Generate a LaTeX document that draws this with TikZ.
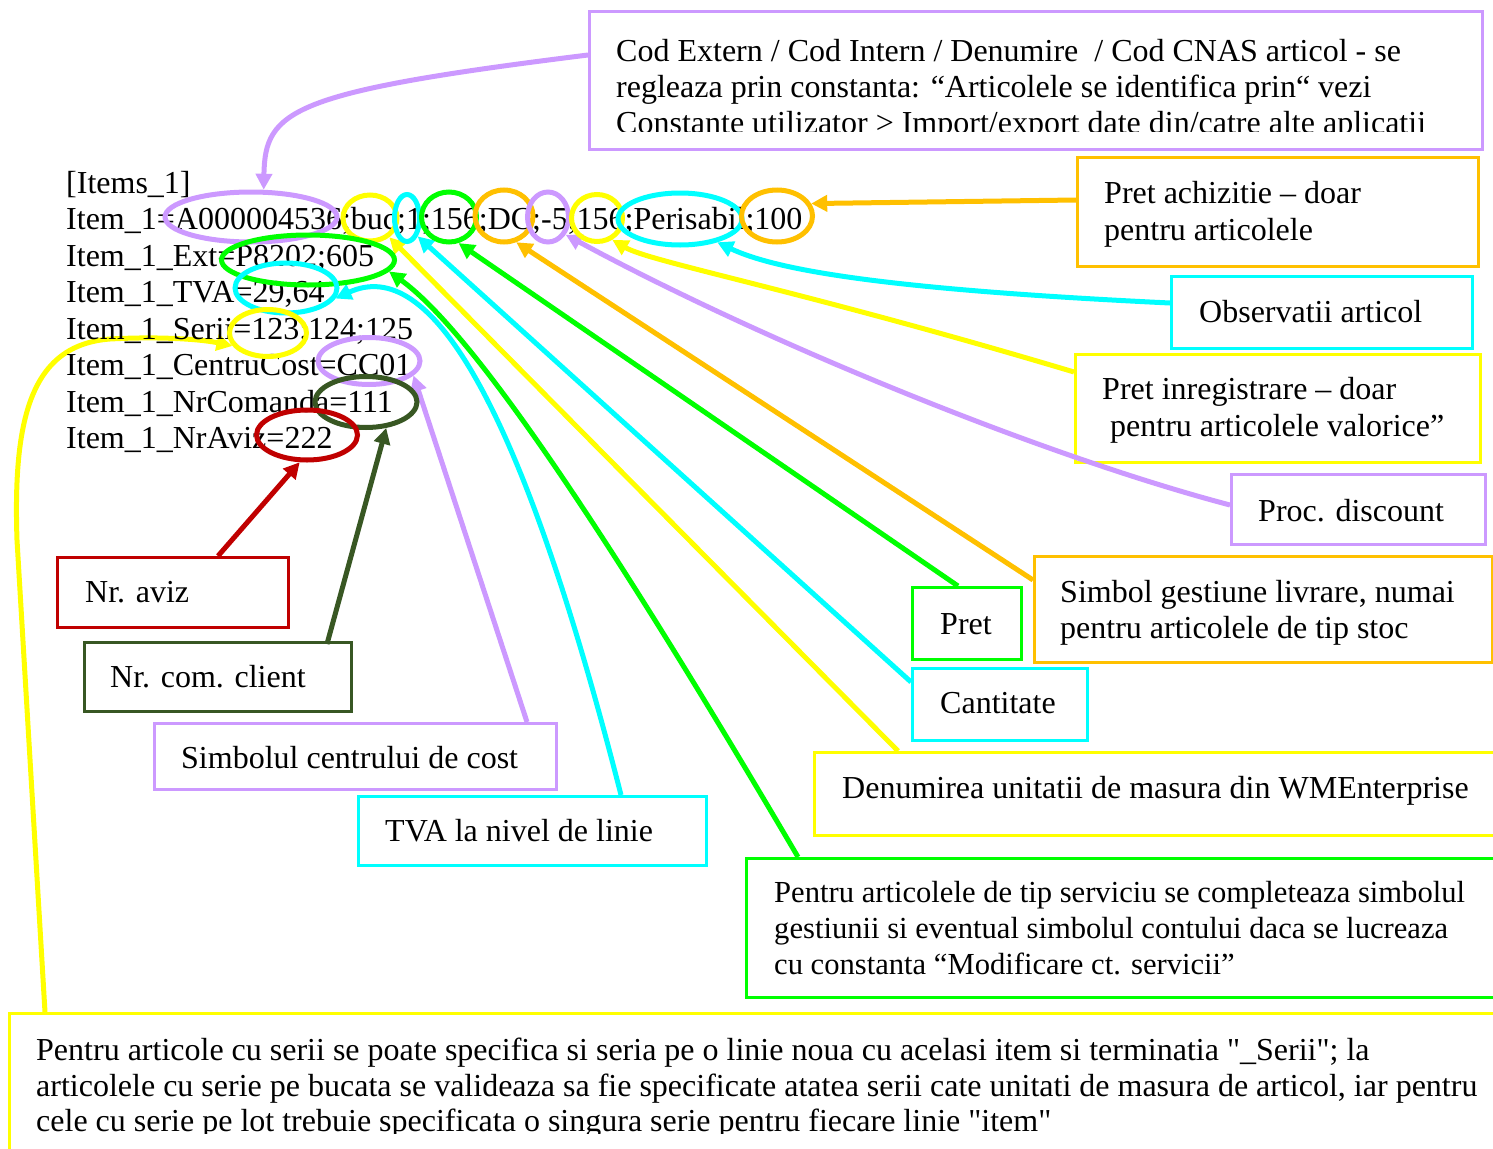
\documentclass[tikz,border=0pt]{standalone}
\usepackage{fontspec}
\newfontfamily\lib{Liberation Serif}
\usetikzlibrary{arrows.meta,shapes.geometric,calc}
\definecolor{cpur}{HTML}{CC99FF}
\definecolor{cyel}{HTML}{FFFF00}
\definecolor{ccya}{HTML}{00FFFF}
\definecolor{cgre}{HTML}{00FF00}
\definecolor{cora}{HTML}{FFC000}
\definecolor{cdgr}{HTML}{385723}
\definecolor{cred}{HTML}{C00000}
\pgfdeclarelayer{fg}
\pgfsetlayers{main,fg}
\begin{document}
\begin{tikzpicture}[x=1pt,y=-1pt,
  txt/.style={anchor=base west,inner sep=0pt,font=\lib\fontsize{32}{36}\selectfont},
  txtj/.style={txt,font=\lib\fontsize{30.6}{36}\selectfont},
  box/.style={draw=#1,line width=3pt,fill=white,anchor=north west,inner sep=0pt,rectangle},
  ell/.style={draw=#1,line width=5pt,ellipse,inner sep=0pt},
  conn/.style={draw=#1,line width=5pt,-{Triangle[length=16pt,width=16pt]}},
]
\useasboundingbox (0,0) rectangle (1493,1148);
\clip (0,0) rectangle (1493,1148);

% ellipses on the top layer
\begin{pgfonlayer}{fg}
\node[ell=cpur,minimum width=172pt,minimum height=50pt] (e1) at (251,217) {};
\node[ell=cyel,minimum width=54pt,minimum height=46pt] (e2) at (370,218) {};
\node[ell=ccya,minimum width=25pt,minimum height=47pt] (e3) at (407,218) {};
\node[ell=cgre,minimum width=55pt,minimum height=50pt] (e4) at (449,217) {};
\node[ell=cora,minimum width=58pt,minimum height=52pt] (e5) at (504,216) {};
\node[ell=cpur,minimum width=41pt,minimum height=50pt] (e6) at (548,217) {};
\node[ell=cyel,minimum width=51pt,minimum height=47pt] (e7) at (597,218) {};
\node[ell=ccya,minimum width=124pt,minimum height=52pt] (e8) at (680,219) {};
\node[ell=cora,minimum width=71pt,minimum height=52pt] (e9) at (777,216) {};
\node[ell=cgre,minimum width=173pt,minimum height=50pt] (e10) at (308,260) {};
\node[ell=ccya,minimum width=102pt,minimum height=50pt] (e11) at (286,288) {};
\node[ell=cyel,minimum width=77pt,minimum height=47pt] (e12) at (268,333) {};
\node[ell=cpur,minimum width=102pt,minimum height=47pt] (e13) at (369,361) {};
\node[ell=cdgr,minimum width=102pt,minimum height=51pt] (e14) at (366,402) {};
\node[ell=cred,minimum width=101pt,minimum height=50pt] (e15) at (307,435) {};
\end{pgfonlayer}

% boxes
\node[box=cpur,minimum width=893pt,minimum height=138pt] (A) at (588,10) {};
\node[box=cora,minimum width=401pt,minimum height=109pt] (B) at (1076,156) {};
\node[box=ccya,minimum width=301pt,minimum height=72pt] (C) at (1170,275) {};
\node[box=cyel,minimum width=405pt,minimum height=108pt] (D) at (1074,353) {};
\node[box=cpur,minimum width=254pt,minimum height=70pt] (E) at (1230,473) {};
\node[box=cora,minimum width=458pt,minimum height=106pt] (F) at (1033,555) {};
\node[box=cgre,minimum width=109pt,minimum height=72pt] (G) at (911,586) {};
\node[box=ccya,minimum width=175pt,minimum height=72pt] (H) at (911,667) {};
\node[box=cyel,minimum width=720pt,minimum height=83pt] (I) at (813,751) {};
\node[box=cgre,minimum width=790pt,minimum height=139pt] (J) at (745,857) {};
\node[box=cyel,minimum width=1530pt,minimum height=200pt] (K) at (8,1012) {};
\node[box=cred,minimum width=231pt,minimum height=70pt] (L) at (56,556) {};
\node[box=cdgr,minimum width=267pt,minimum height=69pt] (M) at (83,641) {};
\node[box=cpur,minimum width=402pt,minimum height=66pt] (N) at (153,722) {};
\node[box=ccya,minimum width=348pt,minimum height=69pt] (O) at (357,795) {};

% connectors
\draw[conn=cpur] ($(A.north west)+(0,45)$) .. controls (290,92) and (265,110) .. (e1.65);
\draw[conn=cora] ($(B.north west)+(0,44)$) -- (e9.20);
\draw[conn=ccya] ($(C.north west)+(0,28)$) .. controls (900,290) and (780,272) .. (e8.-32);
\draw[conn=cyel] ($(D.north west)+(0,19)$) .. controls (800,290) and (650,262) .. (e7.-55);
\draw[conn=cpur] ($(E.north west)+(0,32)$) .. controls (1040,455) and (760,340) .. (e6.-45);
\draw[conn=cora] ($(F.north west)+(0,25)$) -- (e5.-65);
\draw[conn=cgre] ($(G.north west)+(47,0)$) -- (e4.-70);
\draw[conn=ccya] ($(H.north west)+(0,15)$) -- (e3.-60);
\draw[conn=cyel] ($(I.north west)+(85,0)$) -- (e2.-45);
\draw[conn=cgre] ($(J.north west)+(53,0)$) .. controls (600,520) and (470,330) .. (e10.-8);
\draw[conn=ccya] ($(O.north west)+(264,0)$) .. controls (520,400) and (430,255) .. (e11.-12);
\draw[conn=cpur] ($(N.north west)+(374,0)$) -- (e13.-18);
\draw[conn=cdgr] ($(M.north west)+(244,3)$) -- (e14.-52);
\draw[conn=cred] ($(L.north west)+(162,0)$) -- (e15.-105);
\draw[conn=cyel] ($(K.north west)+(37,0)$) -- (17,540) .. controls (13,420) and (30,345) .. (110,339) .. controls (165,336) and (205,340) .. (e12.200);

% item lines
\node[txt] (l0) at (66,193) {[Items\_1]};
\node[txt] (l1) at (66,229.5) {Item\_1=A000004536;buc;1;156;DC;-5;156;Perisabil;100};
\node[txt] (l2) at (66,266) {Item\_1\_Ext=P8202;605};
\node[txt] (l3) at (66,302.5) {Item\_1\_TVA=29,64};
\node[txt] (l4) at (66,339) {Item\_1\_Serii=123;124;125};
\node[txt] (l5) at (66,375.5) {Item\_1\_CentruCost=CC01};
\node[txt] (l6) at (66,412) {Item\_1\_NrComanda=111};
\node[txt] (l7) at (66,448.5) {Item\_1\_NrAviz=222};

% box texts
\begin{scope}
\clip (589,11) rectangle (1479,131);
\node[txt] (a1) at (616,62) {Cod Extern / Cod Intern / Denumire~ / Cod CNAS articol - se};
\node[txt] (a2) at (616,97) {regleaza prin constanta: “Articolele se identifica prin“ vezi};
\node[txt] (a3) at (616,133) {Constante utilizator > Import/export date din/catre alte aplicatii};
\end{scope}
\node[txt] (b1) at (1104,203) {Pret achizitie – doar};
\node[txt] (b2) at (1104,240) {pentru articolele};
\node[txt] (c1) at (1199,322) {Observatii articol};
\node[txt] (d1) at (1102,399) {Pret inregistrare – doar};
\node[txt] (d2) at (1110,436) {pentru articolele valorice”};
\node[txt] (ee1) at (1258,521) {Proc. discount};
\node[txt] (f1) at (1060,602) {Simbol gestiune livrare, numai};
\node[txt] (f2) at (1060,638) {pentru articolele de tip stoc};
\node[txt] (g1) at (940,634) {Pret};
\node[txt] (h1) at (940,713) {Cantitate};
\node[txt] (i1) at (842,798) {Denumirea unitatii de masura din WMEnterprise};
\node[txtj] (j1) at (774,902) {Pentru articolele de tip serviciu se completeaza simbolul};
\node[txtj] (j2) at (774,938) {gestiunii si eventual simbolul contului daca se lucreaza};
\node[txtj] (j3) at (774,974) {cu constanta “Modificare ct. servicii”};
\begin{scope}
\clip (9,1013) rectangle (1493,1133);
\node[txt] (k1) at (36,1060) {Pentru articole cu serii se poate specifica si seria pe o linie noua cu acelasi item si terminatia "\_Serii"; la};
\node[txt] (k2) at (36,1096) {articolele cu serie pe bucata se valideaza sa fie specificate atatea serii cate unitati de masura de articol, iar pentru};
\node[txt] (k3) at (36,1131) {cele cu serie pe lot trebuie specificata o singura serie pentru fiecare linie "item"};
\end{scope}
\node[txt] (lt) at (85,602) {Nr. aviz};
\node[txt] (mt) at (110,687) {Nr. com. client};
\node[txt] (nt) at (181,768) {Simbolul centrului de cost};
\node[txt] (ot) at (385,841) {TVA la nivel de linie};
\end{tikzpicture}
\end{document}
